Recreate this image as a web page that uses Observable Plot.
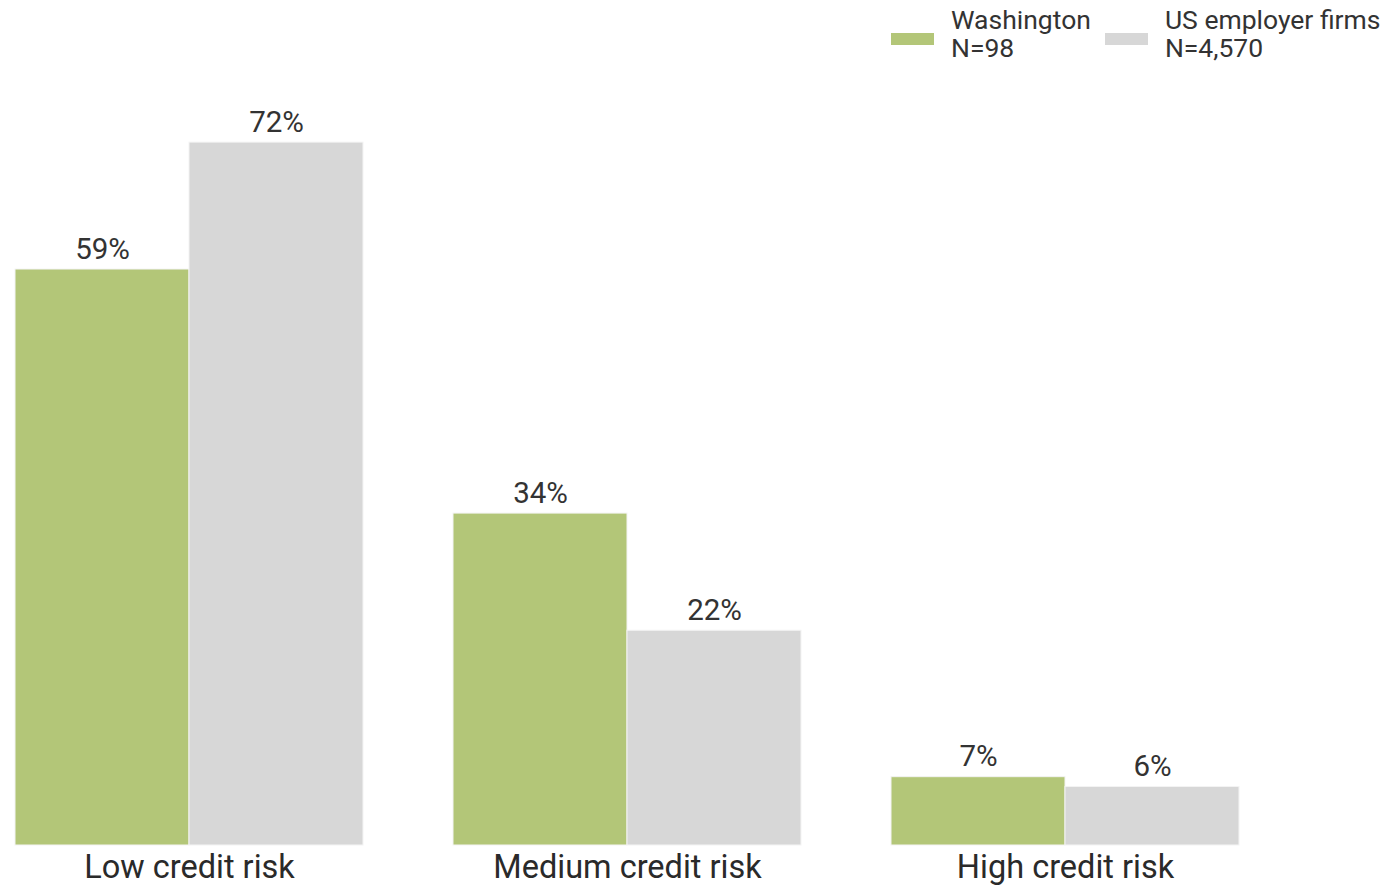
<!DOCTYPE html>
<html>
<head>
<meta charset="utf-8">
<script src="https://cdn.jsdelivr.net/npm/d3@7"></script>
<script src="https://cdn.jsdelivr.net/npm/@observablehq/plot@0.6"></script>
<style>
  body { margin: 0; background: #fff; font-family: Roboto, sans-serif; }
  #wrap { position: relative; width: 1388px; height: 888px; overflow: hidden; }
  #legend { position: absolute; top: 6px; left: 891px; width: 497px; display: flex; font-size: 26.5px; color: #333; line-height: 28px; white-space: nowrap; }
  .item { display: flex; align-items: center; margin-right: 14px; }
  .sw { width: 43px; height: 12px; margin-right: 17px; margin-top: 10px; flex: none; }
</style>
</head>
<body>
<div id="wrap">
  <div id="chart"></div>
  <div id="legend"></div>
</div>
<script>
const categories = ["Low credit risk", "Medium credit risk", "High credit risk"];
const series = ["Washington", "US employer firms"];
const seriesN = ["N=98", "N=4,570"];
const washington = [59, 34, 7];
const usFirms = [72, 22, 6];
const colors = ["#b3c678", "#d7d7d7"];

const data = [];
categories.forEach((c, i) => {
  data.push({category: c, series: series[0], value: washington[i]});
  data.push({category: c, series: series[1], value: usFirms[i]});
});

const chart = Plot.plot({
  width: 1388,
  height: 888,
  marginLeft: 14,
  marginRight: 147,
  marginTop: 64,
  marginBottom: 43,
  style: {fontFamily: "Roboto, sans-serif", color: "#333", background: "#fff"},
  fx: {domain: categories, paddingInner: 0.205, paddingOuter: 0, label: null},
  x: {domain: series, padding: 0, axis: null},
  y: {domain: [0, 80], axis: null},
  color: {domain: series, range: colors},
  marks: [
    Plot.barY(data, {fx: "category", x: "series", y: "value", fill: "series", stroke: "#f4f4f4", strokeWidth: 1, inset: 0}),
    Plot.text(data, {fx: "category", x: "series", y: "value", text: d => d.value + "%", lineAnchor: "bottom", dy: -11, fontSize: 29.5, fill: "#333"}),
    Plot.axisFx({anchor: "bottom", tickSize: 0, tickPadding: 9, fontSize: 32.5, label: null, fill: "#2a2a2a"})
  ]
});
document.getElementById("chart").appendChild(chart);

const legend = document.getElementById("legend");
series.forEach((s, i) => {
  const item = document.createElement("div");
  item.className = "item";
  item.innerHTML = `<div class="sw" style="background:${colors[i]}"></div><div>${s}<br>${seriesN[i]}</div>`;
  legend.appendChild(item);
});
</script>
</body>
</html>
